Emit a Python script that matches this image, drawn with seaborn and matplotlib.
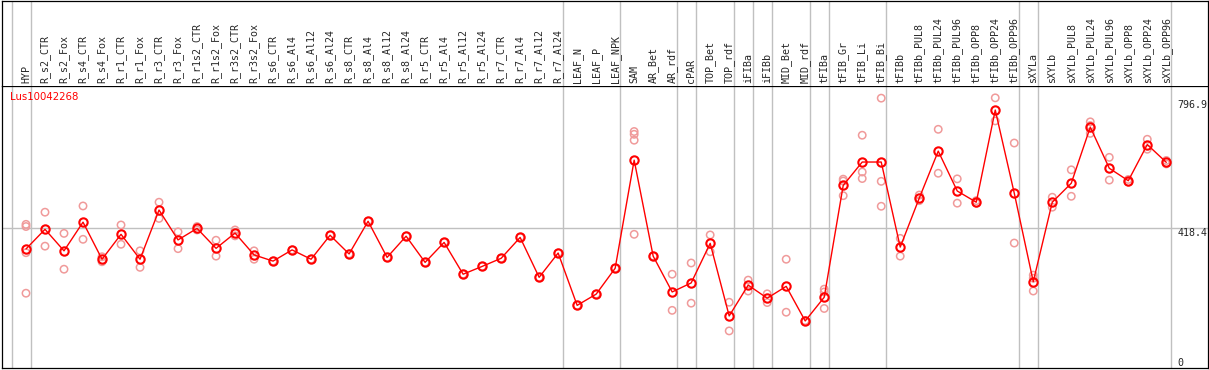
import numpy as np
import pandas as pd
import seaborn as sns
import matplotlib.pyplot as plt

GENE = "Lus10042268"

samples = [
    "HYP", "R_s2_CTR", "R_s2_Fox", "R_s4_CTR", "R_s4_Fox", "R_r1_CTR", "R_r1_Fox",
    "R_r3_CTR", "R_r3_Fox", "R_r1s2_CTR", "R_r1s2_Fox", "R_r3s2_CTR", "R_r3s2_Fox",
    "R_s6_CTR", "R_s6_Al4", "R_s6_Al12", "R_s6_Al24", "R_s8_CTR", "R_s8_Al4",
    "R_s8_Al12", "R_s8_Al24", "R_r5_CTR", "R_r5_Al4", "R_r5_Al12", "R_r5_Al24",
    "R_r7_CTR", "R_r7_Al4", "R_r7_Al12", "R_r7_Al24", "LEAF_N", "LEAF_P", "LEAF_NPK",
    "SAM", "AR_Bet", "AR_rdf", "cPAR", "TOP_Bet", "TOP_rdf", "iFIBa", "iFIBb",
    "MID_Bet", "MID_rdf", "tFIBa", "tFIB_Gr", "tFIB_Li", "tFIB_Bi", "tFIBb",
    "tFIBb_PUL8", "tFIBb_PUL24", "tFIBb_PUL96", "tFIBb_OPP8", "tFIBb_OPP24",
    "tFIBb_OPP96", "sXYLa", "sXYLb", "sXYLb_PUL8", "sXYLb_PUL24", "sXYLb_PUL96",
    "sXYLb_OPP8", "sXYLb_OPP24", "sXYLb_OPP96",
]

means = [
    351, 414, 345, 437, 318, 398, 318, 476, 380, 417, 353, 402, 332,
    312, 348, 318, 395, 335, 440, 324, 392, 308, 372, 270, 295,
    321, 388, 260, 338, 170, 206, 289,
    636, 328, 213, 242, 369, 136, 235, 193,
    231, 120, 196, 555, 630, 630, 357,
    514, 665, 537, 501, 796.9, 530, 246, 501, 562, 742, 610,
    570, 686, 629,
]

replicates = [
    [430, 423, 339, 209], [469, 360], [401, 286], [489, 382], [326, 310],
    [428, 366], [345, 292], [501, 449], [406, 352], [423, 412], [379, 328],
    [412, 393], [345, 318],
    [312], [348], [318], [395], [335], [440], [324], [392], [308], [372],
    [270], [295], [321], [388], [260], [338], [170], [206], [289],
    [728, 719, 700, 398], [328], [270, 154], [306, 177], [396, 342], [180, 88],
    [251, 216], [207, 179], [318, 148], [121, 119], [222, 213, 160],
    [575, 569, 522], [716, 598, 577], [835, 568, 488], [385, 328],
    [524, 506], [735, 594], [576, 498], [506, 498], [836, 762], [691, 370],
    [267, 257, 216], [517, 485], [605, 520], [759, 747, 722], [645, 572],
    [574, 566], [703, 671], [635, 624],
]

# index of the last sample in each block (grey separators)
group_ends = [-1, 0, 28, 31, 34, 35, 37, 38, 39, 41, 42, 45, 52, 53, 60]

y_ticks = [0, 418.4, 796.9]

pos = np.arange(len(samples))
mean_df = pd.DataFrame({"pos": pos, "value": means})
rep_df = pd.DataFrame(
    [(i, v) for i, reps in enumerate(replicates) for v in reps],
    columns=["pos", "value"],
)

sns.set_style("white")
plt.rcParams["font.family"] = ["DejaVu Sans"]

W, H = 1209, 370
fig = plt.figure(figsize=(W / 100, H / 100), dpi=100)
ax = fig.add_axes([1.5 / W, 1.7 / H, 1206.8 / W, 282.3 / H])
hx = fig.add_axes([1.5 / W, 284.0 / H, 1206.8 / W, 85.5 / H], sharex=ax)

grey = "#c0c0c0"
for a in (ax, hx):
    for g in group_ends:
        a.axvline(g + 0.25, color=grey, lw=1, zorder=0)
    for s in a.spines.values():
        s.set_color("black")
        s.set_linewidth(0.9)
ax.axhline(418.4, color=grey, lw=1, zorder=0)

sns.scatterplot(data=rep_df, x="pos", y="value", ax=ax, color="#f09a9a",
                facecolor="none", edgecolor="#f09a9a", linewidth=1.1, s=28,
                zorder=2)
sns.lineplot(data=mean_df, x="pos", y="value", ax=ax, color="red", lw=1,
             marker="o", markersize=6, markerfacecolor="none",
             markeredgecolor="red", markeredgewidth=1.5, zorder=3)

ax.set_xlim(-1.289, 62.21)
ax.set_ylim(-32, 874)
ax.set_xlabel("")
ax.set_ylabel("")
ax.set_xticks([])
ax.set_yticks([])
hx.set_yticks([])
hx.tick_params(bottom=False, labelbottom=False)
hx.spines["bottom"].set_visible(False)

mono = "DejaVu Sans Mono"
for i, name in enumerate(samples):
    hx.text(i, 0.035, name, rotation=90, ha="center", va="bottom",
            fontsize=7.2, family=mono, transform=hx.get_xaxis_transform())

for t in y_ticks:
    ax.text(60.6, t, f"{t:g}", fontsize=7.2, family=mono,
            va="bottom" if t == max(y_ticks) else "top", ha="left")

ax.text(0.007, 0.961, GENE, color="red", fontsize=7.3, va="center",
        ha="left", transform=ax.transAxes)

fig.savefig("out.png", dpi=100)
